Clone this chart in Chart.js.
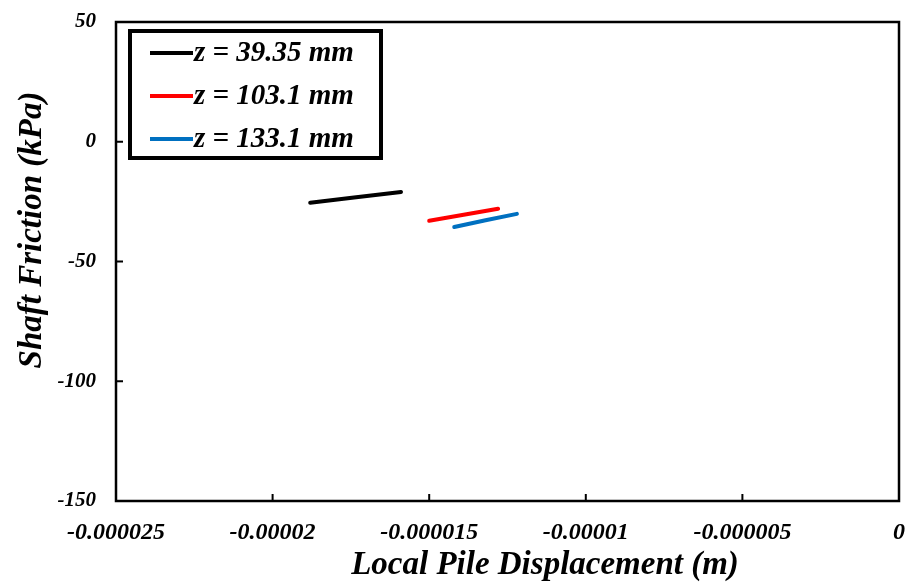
<!DOCTYPE html>
<html>
<head>
<meta charset="utf-8">
<script src="https://cdn.jsdelivr.net/npm/chart.js@4"></script>
<style>
  html, body { margin: 0; padding: 0; background: #fff; }
  #wrap { width: 909px; height: 587px; }
</style>
</head>
<body>
<div id="wrap"><canvas id="myChart" width="909" height="587"></canvas></div>
<script>
// series names and colours
const seriesNames = ['z = 39.35 mm', 'z = 103.1 mm', 'z = 133.1 mm'];
const seriesColors = ['#000000', '#ff0000', '#0070c0'];

// local pile displacement (m)
const dispZ1 = [-0.0000188, -0.0000174, -0.0000159];
const dispZ2 = [-0.0000150, -0.0000139, -0.0000128];
const dispZ3 = [-0.0000142, -0.0000132, -0.0000122];

// shaft friction (kPa)
const fricZ1 = [-25.5, -23.3, -21.0];
const fricZ2 = [-33.0, -30.5, -28.0];
const fricZ3 = [-35.6, -32.8, -30.1];

// tick values
const xTicks = [-0.000025, -0.00002, -0.000015, -0.00001, -0.000005, 0];
const xTickLabels = ['-0.000025', '-0.00002', '-0.000015', '-0.00001', '-0.000005', '0'];
const yTicks = [50, 0, -50, -100, -150];

const FONT = "'Liberation Serif', 'Times New Roman', serif";

const toPoints = (xs, ys) => xs.map((x, i) => ({x: x, y: ys[i]}));
const allDisp = [dispZ1, dispZ2, dispZ3];
const allFric = [fricZ1, fricZ2, fricZ3];

const datasets = seriesNames.map((name, i) => ({
  label: name,
  data: toPoints(allDisp[i], allFric[i]),
  borderColor: seriesColors[i],
  backgroundColor: seriesColors[i],
  borderWidth: 4,
  pointRadius: 0,
  showLine: true,
  tension: 0,
  borderCapStyle: 'round'
}));

const decorPlugin = {
  id: 'decor',
  afterDraw(chart) {
    const c = chart.ctx;
    const a = chart.chartArea;
    const xs = chart.scales.x, ys = chart.scales.y;
    c.save();
    // plot frame
    c.strokeStyle = '#000';
    c.lineWidth = 2.5;
    c.strokeRect(a.left, a.top, a.right - a.left, a.bottom - a.top);
    // inner tick marks
    c.lineWidth = 2;
    c.beginPath();
    xTicks.forEach((v) => {
      const px = xs.getPixelForValue(v);
      c.moveTo(px, a.bottom);
      c.lineTo(px, a.bottom - 7);
    });
    yTicks.forEach((v) => {
      const py = ys.getPixelForValue(v);
      c.moveTo(a.left, py);
      c.lineTo(a.left + 7, py);
    });
    c.stroke();

    // legend box
    c.lineWidth = 4;
    c.strokeRect(130, 31, 251, 127);
    c.font = "bold italic 29px " + FONT;
    c.textBaseline = 'middle';
    c.textAlign = 'left';
    seriesNames.forEach((name, i) => {
      const ly = 53 + i * 43;
      c.strokeStyle = seriesColors[i];
      c.lineWidth = 4;
      c.beginPath();
      c.moveTo(150, ly);
      c.lineTo(193, ly);
      c.stroke();
      c.fillStyle = '#000';
      c.fillText(name, 194, ly + 1);
    });

    // axis titles
    c.fillStyle = '#000';
    c.font = "bold italic 33px " + FONT;
    c.textAlign = 'center';
    c.textBaseline = 'middle';
    c.fillText('Local Pile Displacement (m)', 545, 565);
    c.translate(32, 230);
    c.rotate(-Math.PI / 2);
    c.fillText('Shaft Friction (kPa)', 0, 0);
    c.restore();
  }
};

const ctx = document.getElementById('myChart');
new Chart(ctx, {
  type: 'scatter',
  data: { datasets: datasets },
  options: {
    responsive: false,
    animation: false,
    layout: { padding: { left: 0, top: 22, right: 10, bottom: 0 } },
    plugins: {
      legend: { display: false },
      tooltip: { enabled: false }
    },
    scales: {
      x: {
        type: 'linear',
        min: -0.000025,
        max: 0,
        afterFit: (s) => { s.height = 86; s.paddingLeft = 0; s.paddingRight = 0; },
        afterBuildTicks: (s) => { s.ticks = xTicks.map((v) => ({value: v})); },
        grid: { display: false, drawTicks: false },
        border: { display: false },
        ticks: {
          padding: 17,
          color: '#000',
          font: { family: FONT, size: 24, style: 'italic', weight: 'bold' },
          maxRotation: 0,
          callback: (v) => xTickLabels[xTicks.indexOf(v)]
        }
      },
      y: {
        type: 'linear',
        min: -150,
        max: 50,
        afterFit: (s) => { s.width = 116; s.paddingTop = 0; s.paddingBottom = 0; },
        afterBuildTicks: (s) => { s.ticks = yTicks.map((v) => ({value: v})); },
        grid: { display: false, drawTicks: false },
        border: { display: false },
        ticks: {
          padding: 20,
          color: '#000',
          font: { family: FONT, size: 21, style: 'italic', weight: 'bold' }
        }
      }
    }
  },
  plugins: [decorPlugin]
});
</script>
</body>
</html>
